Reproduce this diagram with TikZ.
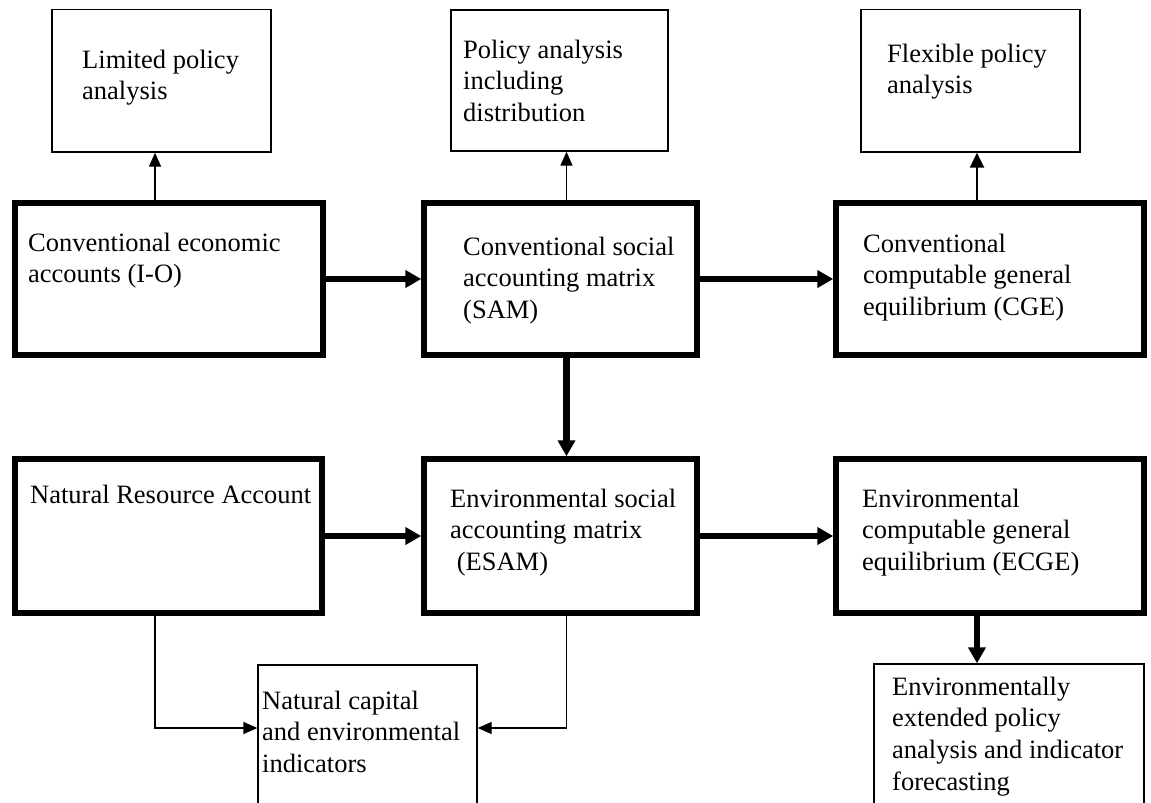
\documentclass[tikz,border=0pt]{standalone}
\usepackage{fontspec}
\setmainfont{Liberation Serif}
\usetikzlibrary{arrows.meta}
\begin{document}
\begin{tikzpicture}[x=1pt,y=-1pt,
  thinbox/.style={draw, line width=1.4pt, inner sep=0pt},
  thickbox/.style={draw, line width=5.5pt, inner sep=0pt},
  txt/.style={anchor=base west, align=left, inner sep=0pt, font=\fontsize{26.5}{31.7}\selectfont},
  thinarr/.style={line width=1.4pt, -{Triangle[length=14pt,width=12pt]}},
  medarr/.style={line width=2.4pt, -{Triangle[length=15pt,width=14pt]}},
  thickarr/.style={line width=6.3pt, -{Triangle[length=16pt,width=17pt]}}]
\clip (0,0) rectangle (1151,803);
\fill[white] (0,0) rectangle (1151,803);
% top thin boxes
\node[thinbox, minimum width=219pt, minimum height=142.5pt] (P1) at (161.5,80.75) {};
\node[thinbox, minimum width=217pt, minimum height=141pt] (P2) at (559.5,80.5) {};
\node[thinbox, minimum width=219pt, minimum height=142.5pt] (P3) at (970.5,80.75) {};
% thick boxes row 1
\node[thickbox, minimum width=308pt, minimum height=152pt] (A) at (169,279) {};
\node[thickbox, minimum width=273pt, minimum height=152pt] (B) at (560.5,279) {};
\node[thickbox, minimum width=308pt, minimum height=152pt] (C) at (990,279) {};
% thick boxes row 2
\node[thickbox, minimum width=307pt, minimum height=154pt] (D) at (168.5,536) {};
\node[thickbox, minimum width=273pt, minimum height=154pt] (E) at (560.5,536) {};
\node[thickbox, minimum width=308pt, minimum height=154pt] (F) at (990,536) {};
% bottom thin boxes
\node[thinbox, minimum width=219pt, minimum height=235pt] (NC) at (367.5,782.5) {};
\node[thinbox, minimum width=270pt, minimum height=236pt] (EE) at (1009,782) {};
% texts (anchored at the baseline of the last line)
\node[txt] (tP1) at (82,99.7) {Limited policy\\analysis};
\node[txt] (tP2) at (463,121.4) {Policy analysis\\including\\distribution};
\node[txt] (tP3) at (887,93.7) {Flexible policy\\analysis};
\node[txt] (tA) at (28,282.7) {Conventional economic\\accounts (I-O)};
\node[txt] (tB) at (463,318.4) {Conventional social\\accounting matrix\\(SAM)};
\node[txt] (tC) at (863,315.4) {Conventional\\computable general\\equilibrium (CGE)};
\node[txt] (tD) at (30,503) {Natural Resource Account};
\node[txt] (tE) at (450,570.4) {Environmental social\\accounting matrix\\\ (ESAM)};
\node[txt] (tF) at (862,570.4) {Environmental\\computable general\\equilibrium (ECGE)};
\node[txt] (tNC) at (262,772.4) {Natural capital\\and environmental\\indicators};
\node[txt] (tEE) at (892,790.1) {Environmentally\\extended policy\\analysis and indicator\\forecasting};
% connector helpers
\coordinate (xP1) at (155,0);
\coordinate (xP2) at (566.5,0);
\coordinate (xP3) at (977,0);
\coordinate (yNC) at (0,728);
% connectors
\draw[thinarr] (A.north -| xP1) -- (P1.south -| xP1);
\draw[thinarr] (B.north -| xP2) -- (P2.south -| xP2);
\draw[medarr] (C.north -| xP3) -- (P3.south -| xP3);
\draw[thickarr] (A.east) -- (B.west);
\draw[thickarr] (B.east) -- (C.west);
\draw[thickarr] (B.south -| xP2) -- (E.north -| xP2);
\draw[thickarr] (D.east) -- (E.west);
\draw[thickarr] (E.east) -- (F.west);
\draw[thickarr] (F.south -| xP3) -- (EE.north -| xP3);
\draw[thinarr] (D.south -| xP1) |- (NC.west |- yNC);
\draw[thinarr] (E.south -| xP2) |- (NC.east |- yNC);
\end{tikzpicture}
\end{document}
